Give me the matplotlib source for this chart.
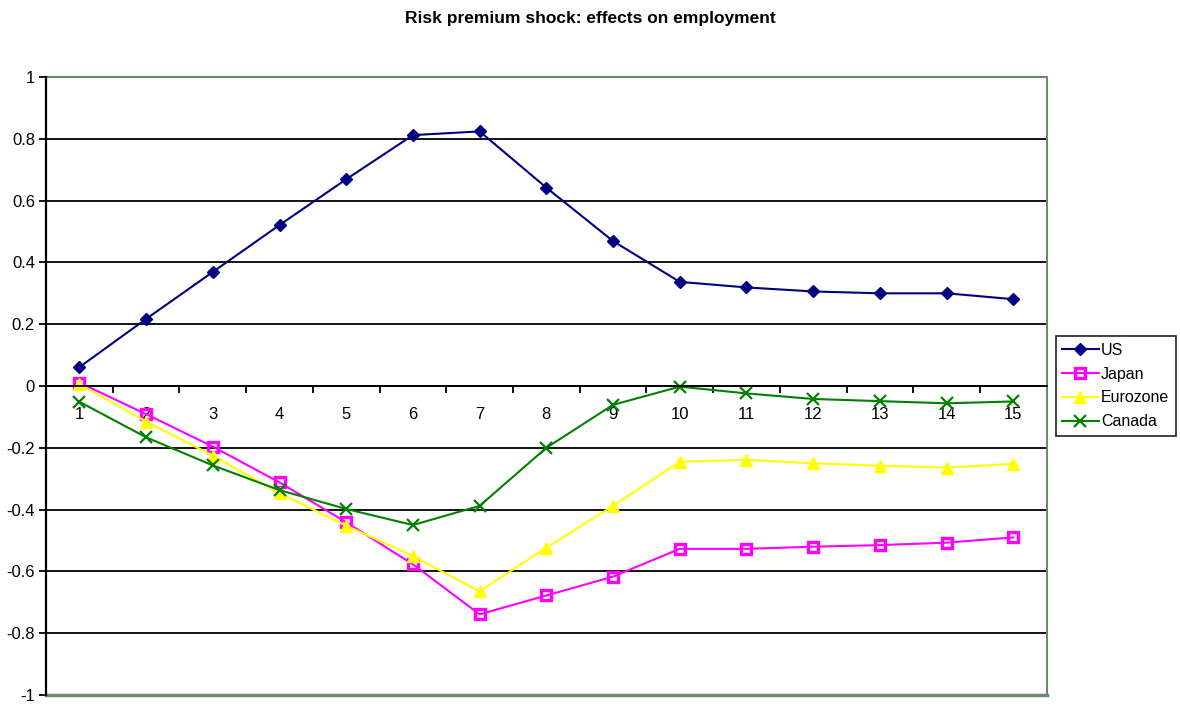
import numpy as np
import matplotlib.pyplot as plt

# impulse responses, periods 1..15
periods = np.arange(1, 16)
us = [0.061, 0.217, 0.369, 0.521, 0.669, 0.812, 0.824, 0.642, 0.469,
      0.337, 0.319, 0.306, 0.300, 0.300, 0.281]
japan = [0.011, -0.091, -0.196, -0.312, -0.441, -0.577, -0.739, -0.678, -0.617,
         -0.527, -0.527, -0.520, -0.515, -0.507, -0.490]
eurozone = [0.006, -0.115, -0.225, -0.347, -0.452, -0.550, -0.665, -0.523, -0.388,
            -0.245, -0.239, -0.250, -0.258, -0.264, -0.252]
canada = [-0.051, -0.166, -0.257, -0.337, -0.398, -0.450, -0.388, -0.200, -0.061,
          -0.002, -0.024, -0.042, -0.049, -0.056, -0.050]

plt.rcParams['font.family'] = ['Liberation Sans', 'DejaVu Sans']

fig = plt.figure(figsize=(11.8, 7.04), dpi=100)
ax = fig.add_axes([0.039, 0.0128, 0.848, 0.8778])

ax.plot(periods, us, color='#000080', lw=1.5, marker='D', ms=6.5, label='US')
ax.plot(periods, japan, color='#ff00ff', lw=1.5, marker='s', ms=6.5,
        mfc='none', mew=2.4, label='Japan')
ax.plot(periods, eurozone, color='#ffff00', lw=1.5, marker='^', ms=8.5, label='Eurozone')
ax.plot(periods, canada, color='#008000', lw=1.5, marker='x', ms=8, mew=1.6, label='Canada')

ax.set_xlim(0.5, 15.5)
ax.set_ylim(-1, 1)
ax.set_yticks(np.arange(-1, 1.01, 0.2))
ax.set_yticklabels(['-1', '-0.8', '-0.6', '-0.4', '-0.2', '0', '0.2', '0.4', '0.6', '0.8', '1'])
ax.yaxis.grid(True, color='black', lw=1.3)
ax.set_axisbelow(True)

# category axis runs along y = 0
ax.spines['bottom'].set_position(('data', 0))
ax.spines['bottom'].set_color('black')
ax.spines['bottom'].set_linewidth(1.3)
ax.set_xticks(periods)
ax.set_xticks(np.arange(1.5, 15, 1), minor=True)
ax.tick_params(axis='x', which='major', length=0, pad=15, labelsize=12)
ax.tick_params(axis='x', which='minor', length=5, width=1.3, direction='out')
ax.tick_params(axis='y', length=5, width=1.3, direction='out', labelsize=12, pad=3)

ax.spines['left'].set_linewidth(1.6)
ax.spines['left'].set_zorder(3)
for side in ['top', 'right']:
    ax.spines[side].set_color('#6e8a6e')
    ax.spines[side].set_linewidth(1.5)
# bottom border of the plot area
ax.axhline(-1, color='#6e8a6e', lw=2.5, clip_on=False, zorder=3)

leg = ax.legend(loc='center left', bbox_to_anchor=(1.009, 0.5), frameon=True,
                fancybox=False, edgecolor='black', fontsize=11.5, handlelength=2.3,
                handletextpad=0.15, borderpad=0.4, labelspacing=0.55, borderaxespad=0)
leg.get_frame().set_linewidth(1.3)

fig.text(0.5, 0.974, 'Risk premium shock: effects on employment',
         ha='center', va='center', fontsize=12.5, fontweight='bold')

fig.savefig('out.png', dpi=100)
